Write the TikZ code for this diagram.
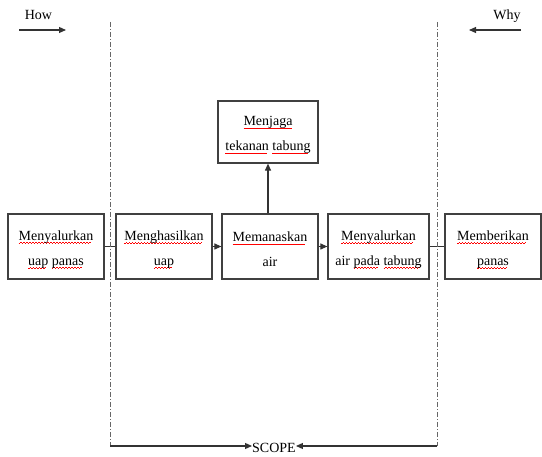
\documentclass[tikz,border=0pt]{standalone}
\usepackage{fontspec}
\setmainfont{Liberation Serif}
\usetikzlibrary{arrows.meta}
\newsavebox{\rwbox}
\newcommand{\rw}[1]{\sbox{\rwbox}{#1}\rlap{\raisebox{-3.2pt}[0pt][0pt]{\color{red}\hbox to\wd\rwbox{\leaders\hbox{\rule{1.5pt}{0.8pt}\raisebox{0.8pt}{\rule{1.5pt}{0.8pt}}}\hfill}}}\usebox{\rwbox}}
\newcommand{\dn}{\rule{0pt}{16pt}}
\begin{document}
\begin{tikzpicture}[x=1pt,y=-1pt,
  box/.style={draw=black!75, line width=1.2pt, minimum width=96pt, minimum height=65pt, align=center, inner sep=0pt, font=\fontsize{14pt}{25pt}\selectfont, text=black},
  lbl/.style={font=\fontsize{14pt}{17pt}\selectfont, inner sep=0pt},
  conn/.style={draw=black!80, line width=1.1pt},
  arr/.style={conn, -{Triangle[length=7pt,width=6pt]}},
  scopeline/.style={draw=black!60, line width=0.8pt, dash pattern=on 5pt off 2pt on 1pt off 2pt}
]
\useasboundingbox (0,0) rectangle (542,457);
\node[box] (b1) at (56,246.5) {\dn\rw{Menyalurkan}\\\rw{uap} \rw{panas}};
\node[box] (b2) at (164,246.5) {\dn\rw{Menghasilkan}\\\rw{uap}};
\node[box] (b3) at (270,246.5) {\dn\rw{Memanaskan}\\air};
\node[box, minimum width=101pt] (b4) at (378.5,246.5) {\dn\rw{Menyalurkan}\\air \rw{pada} \rw{tabung}};
\node[box] (b5) at (493,246.5) {\dn\rw{Memberikan}\\\rw{panas}};
\node[box, minimum width=100pt, minimum height=62pt] (b6) at (268,132) {\dn\rw{Menjaga}\\\rw{tekanan} \rw{tabung}};
\draw[conn] (b1) -- (b2);
\draw[arr] (b2) -- (b3);
\draw[arr] (b3) -- (b4);
\draw[conn] (b4) -- (b5);
\draw[arr] (b6.south |- b3.north) -- (b6.south);
\coordinate (dlt) at (110,22);
\coordinate (dlb) at (110,446);
\coordinate (drt) at (437,22);
\coordinate (drb) at (437,446);
\draw[scopeline] (dlt) -- (dlb);
\draw[scopeline] (drt) -- (drb);
\node[lbl, anchor=base] (scope) at (274,453) {SCOPE};
\draw[arr] (dlb) -- (dlb -| scope.west);
\draw[arr] (drb) -- (drb -| scope.east);
\node[lbl, anchor=base] (how) at (38.5,20) {How};
\coordinate (howa) at (19,30);
\coordinate (howb) at (66,30);
\draw[arr] (howa) -- (howb);
\node[lbl, anchor=base] (why) at (507,20) {Why};
\coordinate (whya) at (521,30);
\coordinate (whyb) at (469,30);
\draw[arr] (whya) -- (whyb);
\end{tikzpicture}
\end{document}
